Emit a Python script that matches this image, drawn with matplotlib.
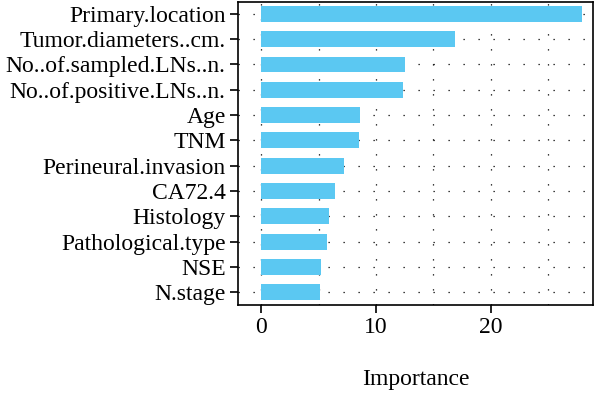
import numpy as np
import matplotlib.pyplot as plt

# variable importance, top row first
features = ['Primary.location', 'Tumor.diameters..cm.', 'No..of.sampled.LNs..n.',
            'No..of.positive.LNs..n.', 'Age', 'TNM', 'Perineural.invasion',
            'CA72.4', 'Histology', 'Pathological.type', 'NSE', 'N.stage']
importance = [28.0, 16.9, 12.5, 12.35, 8.65, 8.5, 7.25, 6.4, 5.9, 5.75, 5.25, 5.15]
xticks = [0, 10, 20]
grid_x = [0, 5, 10, 15, 20, 25]

plt.rcParams['font.family'] = ['Liberation Serif', 'DejaVu Serif']
fs = 17

fig = plt.figure(figsize=(6, 3.94), dpi=100)
ax = fig.add_axes([0.397, 0.226, 0.591, 0.769])

n = len(features)
ypos = np.arange(n, 0, -1)

# dotted grid like R dotchart
for y in ypos:
    ax.axhline(y, color='black', lw=0.9, dashes=(1, 11), zorder=1)
for x in grid_x:
    ax.axvline(x, color='black', lw=0.9, dashes=(1, 11), zorder=1)

ax.barh(ypos, importance, height=0.63, color='#5BC8F2', zorder=2)

ax.set_xlim(-2.0, 28.9)
ax.set_ylim(0.5, n + 0.47)
ax.set_yticks(ypos)
ax.set_yticklabels(features, fontsize=fs)
ax.set_xticks(xticks)
ax.set_xticklabels([str(t) for t in xticks], fontsize=fs)
ax.tick_params(axis='both', direction='out', length=6, width=1.2, color='black', pad=3)
ax.set_xlabel('Importance', fontsize=fs, labelpad=22)
for s in ax.spines.values():
    s.set_linewidth(1.2)

fig.savefig('out.png', dpi=100)
